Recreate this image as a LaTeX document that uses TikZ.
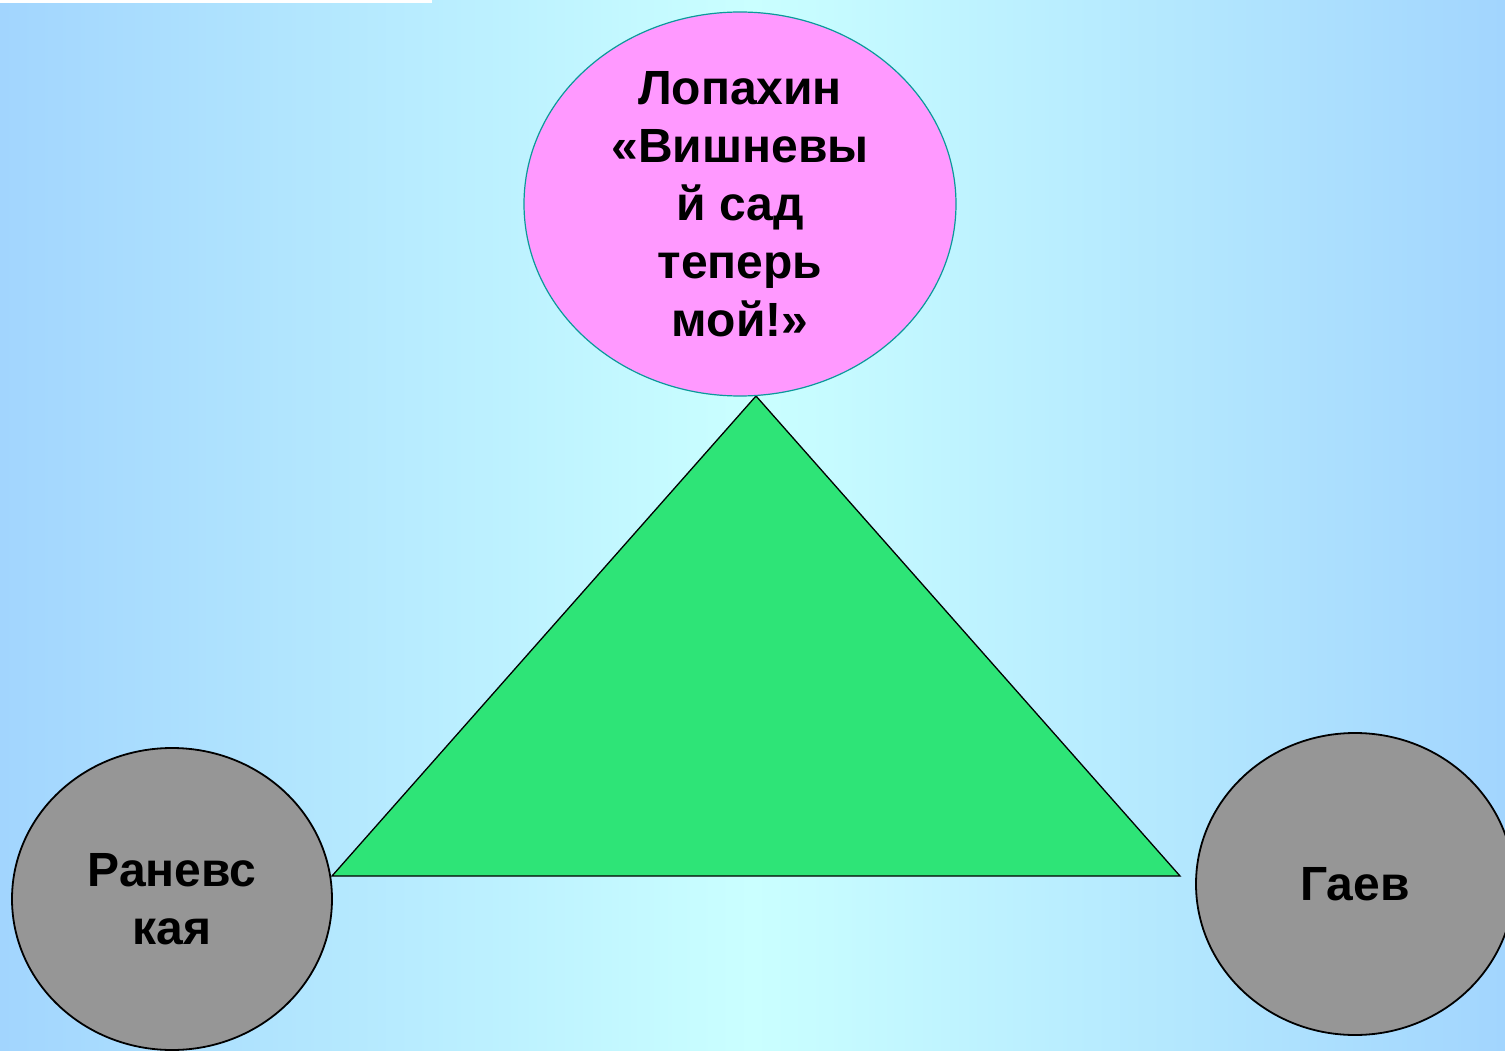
\documentclass[tikz,border=0pt]{standalone}
\usepackage{fontspec}
\setmainfont{Liberation Sans}
\usetikzlibrary{shapes.geometric}
\definecolor{bgedge}{HTML}{A2D5FE}
\definecolor{bgmid}{HTML}{CAFFFF}
\definecolor{pinkfill}{HTML}{FF99FF}
\definecolor{tealline}{HTML}{0A9A9A}
\definecolor{greenfill}{HTML}{2EE477}
\definecolor{grayfill}{HTML}{969696}
\tikzset{
  lbl/.style={font=\fontsize{48}{58}\selectfont\bfseries, align=center, text=black},
  pinkoval/.style={ellipse, draw=tealline, line width=1.2pt, fill=pinkfill, inner sep=0pt,
    minimum width=432pt, minimum height=384pt, lbl},
  grayoval/.style={ellipse, draw=black, line width=1.8pt, fill=grayfill, inner sep=0pt, lbl},
  tri/.style={draw=black, line width=1.3pt, fill=greenfill, line join=miter}
}
\begin{document}
\begin{tikzpicture}[x=1pt,y=-1pt]
\useasboundingbox (0,0) rectangle (1505,1051);
\clip (0,0) rectangle (1505,1051);
\shade[left color=bgedge, right color=bgedge, middle color=bgmid] (0,0) rectangle (1505,1051);
\fill[white] (0,0) rectangle (432,3);
\coordinate (apex) at (756,396);
\coordinate (bl) at (332,876);
\coordinate (br) at (1180,876);
\draw[tri] (apex) -- (bl) -- (br) -- cycle;
\node[pinkoval] (lop) at (740,204) {Лопахин\\«Вишневы\\й сад\\теперь\\мой!»};
\node[grayoval, minimum width=320pt, minimum height=302pt] (ran) at (172,899) {Раневс\\кая};
\node[grayoval, minimum width=318pt, minimum height=302pt] (gaev) at (1355,884) {Гаев};
\end{tikzpicture}
\end{document}
